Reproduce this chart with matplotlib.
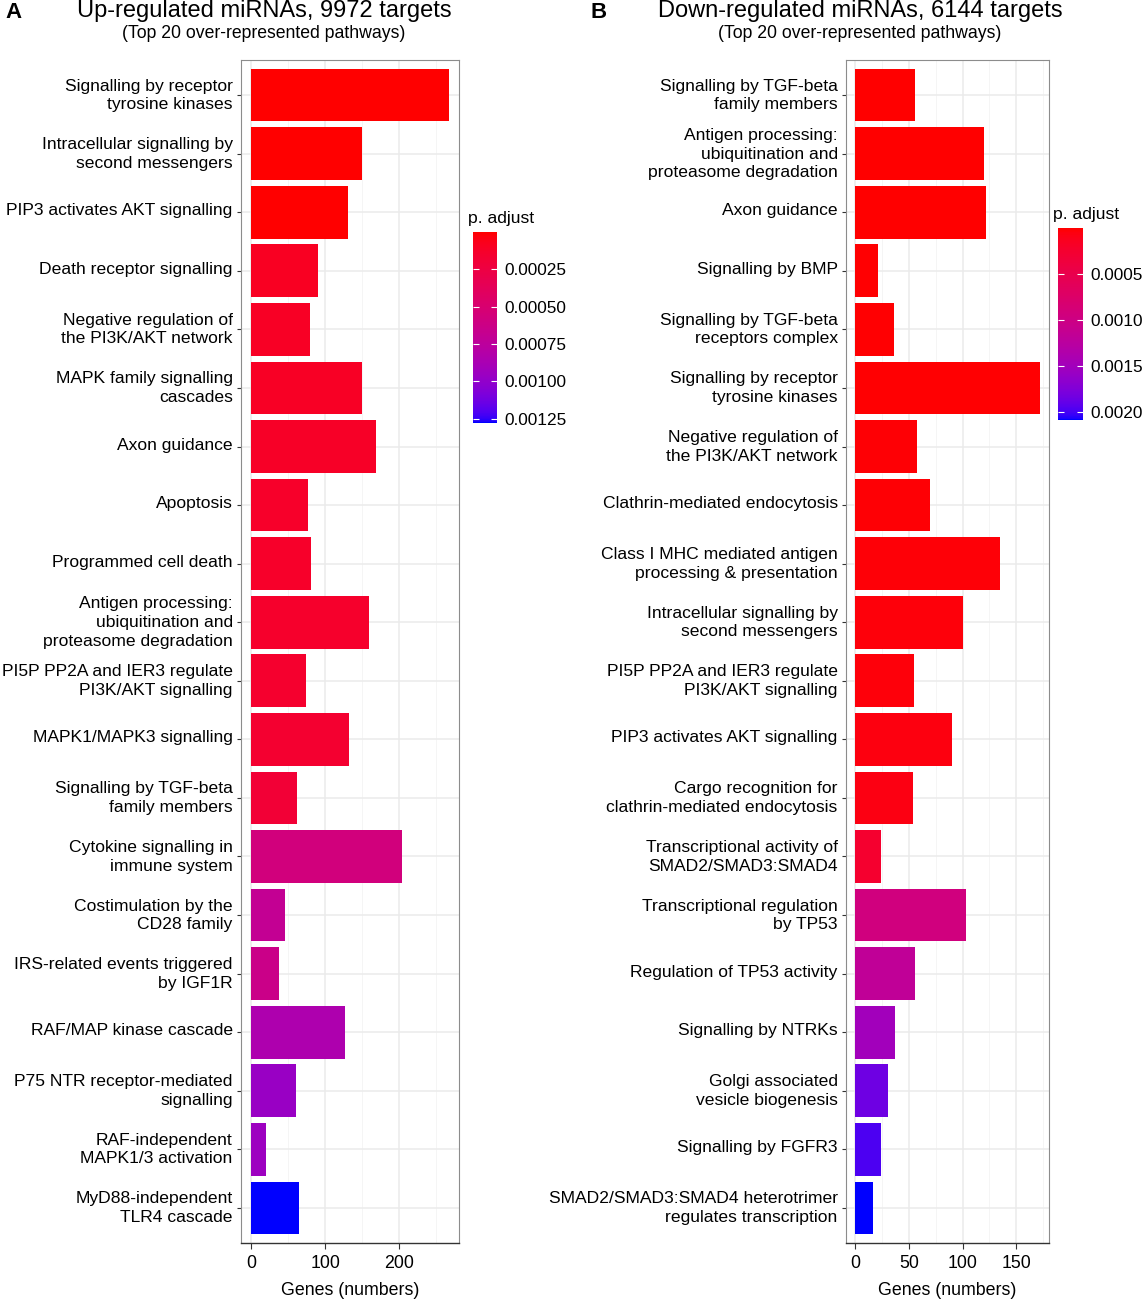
#!/usr/bin/env python
# -*- coding: UTF-8 -*-

r'''
Top 20 over-represented pathways for up- and down-regulated miRNA targets,
bars coloured by adjusted p value (red -> blue, ggplot-like Lab gradient)
'''

OUT_FILE = 'out.png'

UP_TITLE = 'Up-regulated miRNAs, 9972 targets'
DOWN_TITLE = 'Down-regulated miRNAs, 6144 targets'
SUBTITLE = '(Top 20 over-represented pathways)'

UP_PATHWAYS = ['Signalling by receptor\ntyrosine kinases',
	'Intracellular signalling by\nsecond messengers',
	'PIP3 activates AKT signalling',
	'Death receptor signalling',
	'Negative regulation of\nthe PI3K/AKT network',
	'MAPK family signalling\ncascades',
	'Axon guidance',
	'Apoptosis',
	'Programmed cell death',
	'Antigen processing:\nubiquitination and\nproteasome degradation',
	'PI5P PP2A and IER3 regulate\nPI3K/AKT signalling',
	'MAPK1/MAPK3 signalling',
	'Signalling by TGF-beta\nfamily members',
	'Cytokine signalling in\nimmune system',
	'Costimulation by the\nCD28 family',
	'IRS-related events triggered\nby IGF1R',
	'RAF/MAP kinase cascade',
	'P75 NTR receptor-mediated\nsignalling',
	'RAF-independent\nMAPK1/3 activation',
	'MyD88-independent\nTLR4 cascade']
UP_GENES = [267, 149, 131, 91, 80, 149, 169, 77, 81, 159, 74, 132, 62, 204, 46, 38, 127, 61, 20, 65]
UP_PADJ = [0.000001, 0.000003, 0.000005, 0.00010, 0.00011, 0.00011, 0.00012, 0.00013, 0.00013, 0.00014,
	0.00015, 0.00016, 0.00019, 0.00057, 0.00070, 0.00064, 0.00085, 0.00097, 0.00095, 0.00128]
UP_TICKS = [0.00025, 0.00050, 0.00075, 0.00100, 0.00125]
UP_TICKLABELS = ['0.00025', '0.00050', '0.00075', '0.00100', '0.00125']
UP_XTICKS = [0, 100, 200]

DOWN_PATHWAYS = ['Signalling by TGF-beta\nfamily members',
	'Antigen processing:\nubiquitination and\nproteasome degradation',
	'Axon guidance',
	'Signalling by BMP',
	'Signalling by TGF-beta\nreceptors complex',
	'Signalling by receptor\ntyrosine kinases',
	'Negative regulation of\nthe PI3K/AKT network',
	'Clathrin-mediated endocytosis',
	'Class I MHC mediated antigen\nprocessing & presentation',
	'Intracellular signalling by\nsecond messengers',
	'PI5P PP2A and IER3 regulate\nPI3K/AKT signalling',
	'PIP3 activates AKT signalling',
	'Cargo recognition for\nclathrin-mediated endocytosis',
	'Transcriptional activity of\nSMAD2/SMAD3:SMAD4',
	'Transcriptional regulation\nby TP53',
	'Regulation of TP53 activity',
	'Signalling by NTRKs',
	'Golgi associated\nvesicle biogenesis',
	'Signalling by FGFR3',
	'SMAD2/SMAD3:SMAD4 heterotrimer\nregulates transcription']
DOWN_GENES = [56, 120, 122, 21, 36, 172, 58, 70, 135, 100, 55, 90, 54, 24, 103, 56, 37, 31, 24, 17]
DOWN_PADJ = [0.000001, 0.000002, 0.000004, 0.000010, 0.000012, 0.000015, 0.000020, 0.000025, 0.000030,
	0.000035, 0.000040, 0.000050, 0.000070, 0.00025, 0.00095, 0.00118, 0.00150, 0.00185, 0.00198, 0.00209]
DOWN_TICKS = [0.0005, 0.0010, 0.0015, 0.0020]
DOWN_TICKLABELS = ['0.0005', '0.0010', '0.0015', '0.0020']
DOWN_XTICKS = [0, 50, 100, 150]


import numpy as np
import matplotlib
matplotlib.use('Agg')
import matplotlib.pyplot as plt
from matplotlib.colors import ListedColormap, Normalize
from matplotlib.cm import ScalarMappable
from matplotlib.transforms import ScaledTranslation

plt.rcParams['font.family'] = ['Liberation Sans', 'DejaVu Sans']

W, H = 1146, 1300


def srgb_to_lab(rgb):
	rgb = np.asarray(rgb, float)
	lin = np.where(rgb <= 0.04045, rgb/12.92, ((rgb + 0.055)/1.055)**2.4)
	M = np.array([[0.4124, 0.3576, 0.1805], [0.2126, 0.7152, 0.0722], [0.0193, 0.1192, 0.9505]])
	xyz = M @ lin / np.array([0.95047, 1.0, 1.08883])
	f = np.where(xyz > 0.008856, np.cbrt(xyz), 7.787*xyz + 16/116)
	return np.array([116*f[1] - 16, 500*(f[0] - f[1]), 200*(f[1] - f[2])])


def lab_to_srgb(lab):
	L, a, b = lab
	fy = (L + 16)/116
	f = np.array([fy + a/500, fy, fy - b/200])
	xyz = np.where(f**3 > 0.008856, f**3, (f - 16/116)/7.787) * np.array([0.95047, 1.0, 1.08883])
	Minv = np.array([[3.2406, -1.5372, -0.4986], [-0.9689, 1.8758, 0.0415], [0.0557, -0.2040, 1.0570]])
	lin = np.clip(Minv @ xyz, 0, 1)
	rgb = np.where(lin <= 0.0031308, 12.92*lin, 1.055*lin**(1/2.4) - 0.055)
	return np.clip(rgb, 0, 1)


def make_cmap():
	lo = srgb_to_lab([1, 0, 0])
	hi = srgb_to_lab([0, 0, 1])
	cols = [lab_to_srgb(lo + t*(hi - lo)) for t in np.linspace(0, 1, 256)]
	return ListedColormap(cols)


def px(x0, y0, x1, y1):
	'''pixel box -> figure fraction rect'''
	return [x0/W, 1 - y1/H, (x1 - x0)/W, (y1 - y0)/H]


def draw_panel(fig, rect, cbar_rect, pathways, genes, padj, xticks, cticks, cticklabels, cmap):
	ax = fig.add_axes(rect)
	norm = Normalize(min(padj), max(padj))
	n = len(pathways)
	ys = np.arange(n, 0, -1)
	ax.barh(ys, genes, height=0.9, color=cmap(norm(padj)), zorder=3)

	gmax = max(genes)
	ax.set_xlim(-0.05*gmax, 1.05*gmax)
	ax.set_ylim(0.4, n + 0.6)
	ax.set_yticks(ys)
	ax.set_yticklabels(pathways, fontsize=12.6, color='black', linespacing=1.3)
	ax.set_xticks(xticks)
	step = xticks[1] - xticks[0]
	ax.set_xticks(np.arange(step/2, 1.05*gmax, step), minor=True)
	ax.tick_params(axis='x', labelsize=12.8, length=4, width=0.8, color='#333333', pad=5)
	ax.tick_params(axis='x', which='minor', length=0)
	ax.tick_params(axis='y', length=3, width=0.8, color='#333333', pad=3)
	# nudge labels up a little, matplotlib centres multi-line text slightly low
	shift = ScaledTranslation(0, 3/100, fig.dpi_scale_trans)
	for tick in ax.yaxis.get_major_ticks():
		tick.label1.set_transform(tick.label1.get_transform() + shift)
	ax.set_xlabel('Genes (numbers)', fontsize=12.8, labelpad=7)

	ax.grid(True, which='major', color='#EBEBEB', lw=1.1, zorder=0)
	ax.grid(True, which='minor', axis='x', color='#F4F4F4', lw=0.6, zorder=0)
	ax.set_axisbelow(True)
	for side in ['top', 'right', 'left']:
		ax.spines[side].set_color('#8C8C8C')
		ax.spines[side].set_linewidth(0.8)
	ax.spines['bottom'].set_color('#333333')
	ax.spines['bottom'].set_linewidth(1.0)

	cax = fig.add_axes(cbar_rect)
	sm = ScalarMappable(norm=norm, cmap=cmap)
	cb = fig.colorbar(sm, cax=cax)
	cb.outline.set_visible(False)
	cb.set_ticks(cticks)
	cb.set_ticklabels(cticklabels)
	cax.invert_yaxis()
	cax.tick_params(left=True, right=True, labelleft=False, labelright=True, direction='in',
		length=4, width=0.8, color='white', labelsize=12.4, pad=5)
	cax.text(-0.2, 1.03, 'p. adjust', transform=cax.transAxes, fontsize=12.6, ha='left', va='bottom')
	return ax


if __name__ == '__main__':

	cmap = make_cmap()
	fig = plt.figure(figsize=(W/100, H/100), dpi=100)

	draw_panel(fig, px(241, 60, 459, 1243), px(473, 232, 497, 423),
		UP_PATHWAYS, UP_GENES, UP_PADJ, UP_XTICKS, UP_TICKS, UP_TICKLABELS, cmap)
	draw_panel(fig, px(846, 60, 1049, 1243), px(1058, 228, 1083, 420),
		DOWN_PATHWAYS, DOWN_GENES, DOWN_PADJ, DOWN_XTICKS, DOWN_TICKS, DOWN_TICKLABELS, cmap)

	fig.text(5/W, 1 - 12/H, 'A', fontsize=16, fontweight='bold', va='center', ha='left')
	fig.text(264/W, 1 - 11/H, UP_TITLE, fontsize=17, va='center', ha='center')
	fig.text(264/W, 1 - 33/H, SUBTITLE, fontsize=12.7, va='center', ha='center')
	fig.text(590/W, 1 - 12/H, 'B', fontsize=16, fontweight='bold', va='center', ha='left')
	fig.text(860/W, 1 - 11/H, DOWN_TITLE, fontsize=17, va='center', ha='center')
	fig.text(860/W, 1 - 33/H, SUBTITLE, fontsize=12.7, va='center', ha='center')

	plt.savefig(OUT_FILE, dpi=100)
